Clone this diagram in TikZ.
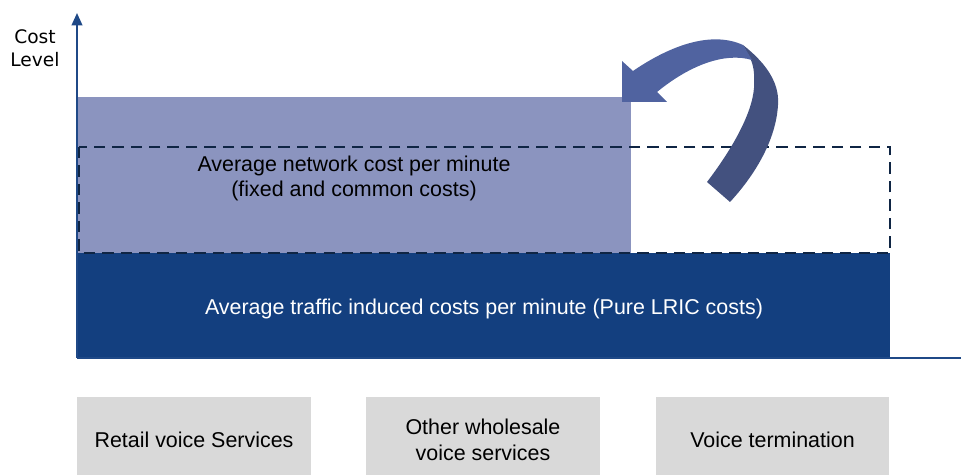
\documentclass[tikz,border=0pt]{standalone}
\usepackage{fontspec}
\setmainfont{Liberation Sans}
\newfontfamily\axisfont{DejaVu Sans}
\usetikzlibrary{arrows.meta}

\definecolor{barblue}{RGB}{19,63,127}
\definecolor{barlilac}{RGB}{139,148,191}
\definecolor{axisblue}{RGB}{31,73,135}
\definecolor{dashnavy}{RGB}{15,37,68}
\definecolor{arrowlight}{RGB}{80,99,160}
\definecolor{arrowdark}{RGB}{67,81,127}
\definecolor{boxgray}{RGB}{217,217,217}

\tikzset{
    servicebox/.style={fill=boxgray, minimum width=4.68cm, minimum height=1.72cm,
                       inner sep=0pt, align=center, font=\fontsize{12.2}{14.9}\selectfont},
    bartext/.style={align=center, font=\fontsize{12.2}{13.8}\selectfont},
    axisline/.style={axisblue, line width=1.1pt}
}

\begin{document}
\begin{tikzpicture}[x=0.02cm,y=-0.02cm]
                    \useasboundingbox (0,0) rectangle (961,475);

                    % cost bars
                    \fill[barlilac] (77,97) rectangle (631,253);
                    \fill[barblue]  (77,253) rectangle (890,358);
                    \draw[dashnavy,line width=1.6pt,dash pattern=on 6.5pt off 4pt] (79,147) rectangle (890,253);

                    % axes
                    \draw[axisline,-{Triangle[length=7pt,width=6pt]}] (77,358) -- (77,13);
                    \draw[axisline] (77,358) -- (961,358);

                    \node[font=\axisfont\fontsize{10.6}{13}\selectfont,align=center] (costlabel) at (35,48) {Cost\\Level};

                    \node[bartext] (netcost) at (354,178.5) {Average network cost per minute\\(fixed and common costs)};
                    \node[bartext,text=white] (trafcost) at (484,309) {Average traffic induced costs per minute (Pure LRIC costs)};

                    % curved arrow, lower part first
                    \fill[arrowdark] (743,45) .. controls (762,60) and (780,80) .. (778,105)
                                     .. controls (776,140) and (755,175) .. (730,202)
                                     -- (707,182)
                                     .. controls (730,152) and (752,115) .. (754,88)
                                     .. controls (755,72) and (753,64) .. (750,58) -- cycle;
                    \fill[arrowlight] (622,61) -- (633,71) .. controls (668,47) and (710,30) .. (743,45)
                                      -- (752,60) .. controls (725,52) and (690,65) .. (657,92)
                                      -- (667,102) -- (622,102) -- cycle;

                    % services (boxes run past the lower edge)
                    \node[servicebox] (retail)      at (194,440)   {Retail voice Services};
                    \node[servicebox] (wholesale)   at (483,440)   {Other wholesale\\voice services};
                    \node[servicebox] (termination) at (772.5,440) {Voice termination};

                \end{tikzpicture}
\end{document}
